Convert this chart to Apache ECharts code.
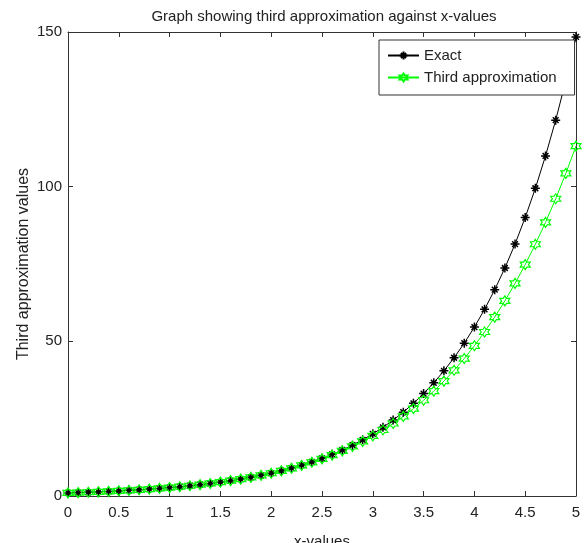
<!DOCTYPE html>
<html>
<head>
<meta charset="utf-8">
<script src="https://cdn.jsdelivr.net/npm/echarts@6/dist/echarts.min.js"></script>
<style>
html,body{margin:0;padding:0;background:#fff;}
#chart{width:584px;height:543px;}
</style>
</head>
<body>
<div id="chart"></div>
<script>
// x values (step 0.1 from 0 to 5)
var xValues = [0,0.1,0.2,0.3,0.4,0.5,0.6,0.7,0.8,0.9,1.0,1.1,1.2,1.3,1.4,1.5,1.6,1.7,1.8,1.9,2.0,2.1,2.2,2.3,2.4,2.5,2.6,2.7,2.8,2.9,3.0,3.1,3.2,3.3,3.4,3.5,3.6,3.7,3.8,3.9,4.0,4.1,4.2,4.3,4.4,4.5,4.6,4.7,4.8,4.9,5.0];
// Exact values
var exactValues = [1.00,1.11,1.22,1.35,1.49,1.65,1.82,2.01,2.23,2.46,2.72,3.00,3.32,3.67,4.06,4.48,4.95,5.47,6.05,6.69,7.39,8.17,9.03,9.97,11.02,12.18,13.46,14.88,16.44,18.17,20.09,22.20,24.53,27.11,29.96,33.12,36.60,40.45,44.70,49.40,54.60,60.34,66.69,73.70,81.45,90.02,99.48,109.95,121.51,134.29,148.41];
// Third approximation values
var approxValues = [1.00,1.11,1.22,1.35,1.49,1.65,1.82,2.01,2.23,2.46,2.72,3.00,3.32,3.67,4.05,4.48,4.95,5.46,6.03,6.66,7.36,8.12,8.96,9.88,10.90,12.01,13.23,14.57,16.04,17.65,19.41,21.34,23.44,25.73,28.23,30.95,33.92,37.14,40.64,44.44,48.56,53.02,57.85,63.07,68.72,74.81,81.38,88.46,96.09,104.30,113.12];
var seriesNames = ['Exact', 'Third approximation'];
var titleText = 'Graph showing third approximation against x-values';
var xAxisName = 'x-values';
var yAxisName = 'Third approximation values';

function pairs(xs, ys) {
  var out = [];
  for (var i = 0; i < xs.length; i++) out.push([xs[i], ys[i]]);
  return out;
}

var asterisk = 'path://M5 0L5 10M0 5L10 5M1.8 1.8L8.2 8.2M8.2 1.8L1.8 8.2';
var hexagram = 'path://M5 0L6.443 2.5L9.33 2.5L7.887 5L9.33 7.5L6.443 7.5L5 10L3.557 7.5L0.67 7.5L2.113 5L0.67 2.5L3.557 2.5Z';

var font = 'Liberation Sans, Arial, sans-serif';
var axisCol = '#333';
var textCol = '#222';

var chart = echarts.init(document.getElementById('chart'), null, {renderer: 'canvas'});
chart.setOption({
  animation: false,
  backgroundColor: '#fff',
  title: {
    text: titleText,
    left: 319,
    top: 4,
    textAlign: 'center',
    textStyle: {fontFamily: font, fontSize: 15, fontWeight: 'normal', color: textCol}
  },
  grid: {left: 68, right: 8, top: 32, bottom: 47, containLabel: false, outerBoundsMode: 'none'},
  legend: {
    orient: 'vertical',
    left: 379,
    top: 40,
    padding: [8, 18, 10, 8],
    itemGap: 7,
    itemWidth: 31,
    itemHeight: 10,
    borderColor: '#333',
    borderWidth: 1,
    backgroundColor: '#fff',
    textStyle: {fontFamily: font, fontSize: 15, color: textCol},
    data: seriesNames
  },
  xAxis: [{
    type: 'value', min: 0, max: 5, interval: 0.5,
    name: xAxisName, nameLocation: 'middle', nameGap: 38,
    nameTextStyle: {fontFamily: font, fontSize: 15, color: textCol},
    axisLine: {show: true, onZero: false, lineStyle: {color: axisCol, width: 1}},
    axisTick: {show: true, inside: true, length: 5, lineStyle: {color: axisCol}},
    axisLabel: {fontFamily: font, fontSize: 15, color: textCol, margin: 9},
    splitLine: {show: false}
  }, {
    type: 'value', min: 0, max: 5, interval: 0.5, position: 'top',
    axisLine: {show: true, onZero: false, lineStyle: {color: axisCol, width: 1}},
    axisTick: {show: true, inside: true, length: 5, lineStyle: {color: axisCol}},
    axisLabel: {show: false},
    splitLine: {show: false}
  }],
  yAxis: [{
    type: 'value', min: 0, max: 150, interval: 50,
    name: yAxisName, nameLocation: 'middle', nameGap: 36, nameRotate: 90,
    nameMoveOverlap: false,
    nameTextStyle: {fontFamily: font, fontSize: 16, color: textCol},
    axisLine: {show: true, onZero: false, lineStyle: {color: axisCol, width: 1}},
    axisTick: {show: true, inside: true, length: 5, lineStyle: {color: axisCol}},
    axisLabel: {fontFamily: font, fontSize: 15, color: textCol, margin: 6},
    splitLine: {show: false}
  }, {
    type: 'value', min: 0, max: 150, interval: 50, position: 'right',
    axisLine: {show: true, onZero: false, lineStyle: {color: axisCol, width: 1}},
    axisTick: {show: true, inside: true, length: 5, lineStyle: {color: axisCol}},
    axisLabel: {show: false},
    splitLine: {show: false}
  }],
  series: [{
    name: seriesNames[0],
    type: 'line',
    xAxisIndex: 0, yAxisIndex: 0,
    data: pairs(xValues, exactValues),
    symbol: asterisk,
    symbolSize: 9,
    showAllSymbol: true,
    lineStyle: {color: '#000', width: 1},
    itemStyle: {color: '#000', borderColor: '#000', borderWidth: 1.5}
  }, {
    name: seriesNames[1],
    type: 'line',
    xAxisIndex: 0, yAxisIndex: 0,
    data: pairs(xValues, approxValues),
    symbol: hexagram,
    symbolSize: 10,
    showAllSymbol: true,
    lineStyle: {color: '#00ff00', width: 1},
    itemStyle: {color: 'rgba(0,0,0,0)', borderColor: '#00ff00', borderWidth: 1.2}
  }]
});
</script>
</body>
</html>
